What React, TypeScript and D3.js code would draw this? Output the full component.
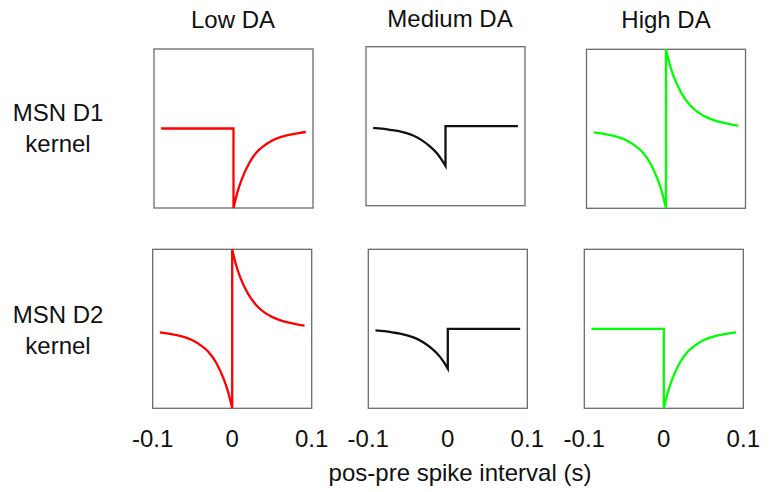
import React from "react";
import * as d3 from "d3";

// ---- data ----
const columns = ["Low DA", "Medium DA", "High DA"];
const rows = [["MSN D1", "kernel"], ["MSN D2", "kernel"]];
const tickValues = [-0.1, 0, 0.1];
const tickLabels = ["-0.1", "0", "0.1"];
const xLabel = "pos-pre spike interval (s)";

// time samples (s) for pre (t<0) and post (t>0) halves
const tPre = [-0.091, -0.08, -0.07, -0.06, -0.05, -0.04, -0.03, -0.02, -0.01, -0.005, 0];
const tPost = [0, 0.005, 0.01, 0.02, 0.03, 0.04, 0.05, 0.06, 0.07, 0.08, 0.091];

// kernel values (normalised, -1..1)
const flatPre = [0, 0, 0, 0, 0, 0, 0, 0, 0, 0, 0];
const flatPost = [0, 0, 0, 0, 0, 0, 0, 0, 0, 0, 0];
const depPost = [-1, -0.8, -0.65, -0.43, -0.29, -0.205, -0.145, -0.105, -0.08, -0.06, -0.044];
const depPre = [-0.044, -0.06, -0.08, -0.105, -0.145, -0.205, -0.29, -0.43, -0.65, -0.8, -1];
const potPost = [1, 0.8, 0.65, 0.44, 0.3, 0.21, 0.15, 0.11, 0.08, 0.058, 0.04];
const medPre = [-0.02, -0.03, -0.045, -0.06, -0.085, -0.12, -0.175, -0.25, -0.35, -0.42, -0.5];

// [row][col] -> [pre values, post values]
const kernels = [
  [[flatPre, depPost], [medPre, flatPost], [depPre, potPost]],
  [[depPre, potPost], [medPre, flatPost], [flatPre, depPost]],
];
const colors = ["#ff0000", "#111111", "#00ff00"];

// ---- layout ----
const W = 769;
const H = 492;
const size = 159;
const panelX = [
  [154, 366, 586.5],
  [152.7, 368.3, 584.3],
];
const panelY = [
  [49, 46.7, 49.3],
  [249.3, 249.3, 249.3],
];
const titleX = [233, 450, 666];

export default function App() {
  const x = d3.scaleLinear().domain([-0.1, 0.1]).range([0, size]);
  const y = d3.scaleLinear().domain([-1, 1]).range([size, 0]);
  const line = d3
    .line<[number, number]>()
    .x((d) => x(d[0]))
    .y((d) => y(d[1]))
    .curve(d3.curveMonotoneX);

  const font = "'Liberation Sans', Arial, sans-serif";

  return (
    <svg
      width={W}
      height={H}
      style={{ position: "absolute", left: 0, top: 0, background: "#fff" }}
      fontFamily={font}
    >
      {columns.map((c, j) => (
        <text
          key={c}
          x={titleX[j]}
          y={j === 1 ? 27 : 28}
          fontSize={24}
          textAnchor="middle"
          fill="#111"
        >
          {c}
        </text>
      ))}
      {rows.map((r, i) => (
        <g key={i}>
          <text x={58} y={121 + i * 202} fontSize={24} textAnchor="middle" fill="#111">
            {r[0]}
          </text>
          <text x={58} y={152 + i * 202} fontSize={24} textAnchor="middle" fill="#111">
            {r[1]}
          </text>
        </g>
      ))}
      {kernels.map((row, i) =>
        row.map(([pre, post], j) => {
          const prePts = tPre.map((t, k) => [t, pre[k]] as [number, number]);
          const postPts = tPost.map((t, k) => [t, post[k]] as [number, number]);
          const d = (line(prePts) || "") + (line(postPts) || "").replace(/^M/, "L");
          return (
            <g key={`${i}-${j}`} transform={`translate(${panelX[i][j]},${panelY[i][j]})`}>
              <rect
                x={0}
                y={0}
                width={size}
                height={size}
                fill="none"
                stroke="#6b6b6b"
                strokeWidth={1.3}
              />
              <path
                d={d}
                fill="none"
                stroke={colors[j]}
                strokeWidth={2.3}
                strokeLinejoin="miter"
                strokeLinecap="butt"
              />
            </g>
          );
        })
      )}
      {[0, 1, 2].map((j) =>
        tickValues.map((v, k) => (
          <text
            key={`t${j}-${k}`}
            x={panelX[1][j] + x(v)}
            y={447}
            fontSize={24}
            textAnchor="middle"
            fill="#111"
          >
            {tickLabels[k]}
          </text>
        ))
      )}
      <text x={460} y={481} fontSize={24} textAnchor="middle" fill="#111">
        {xLabel}
      </text>
    </svg>
  );
}
